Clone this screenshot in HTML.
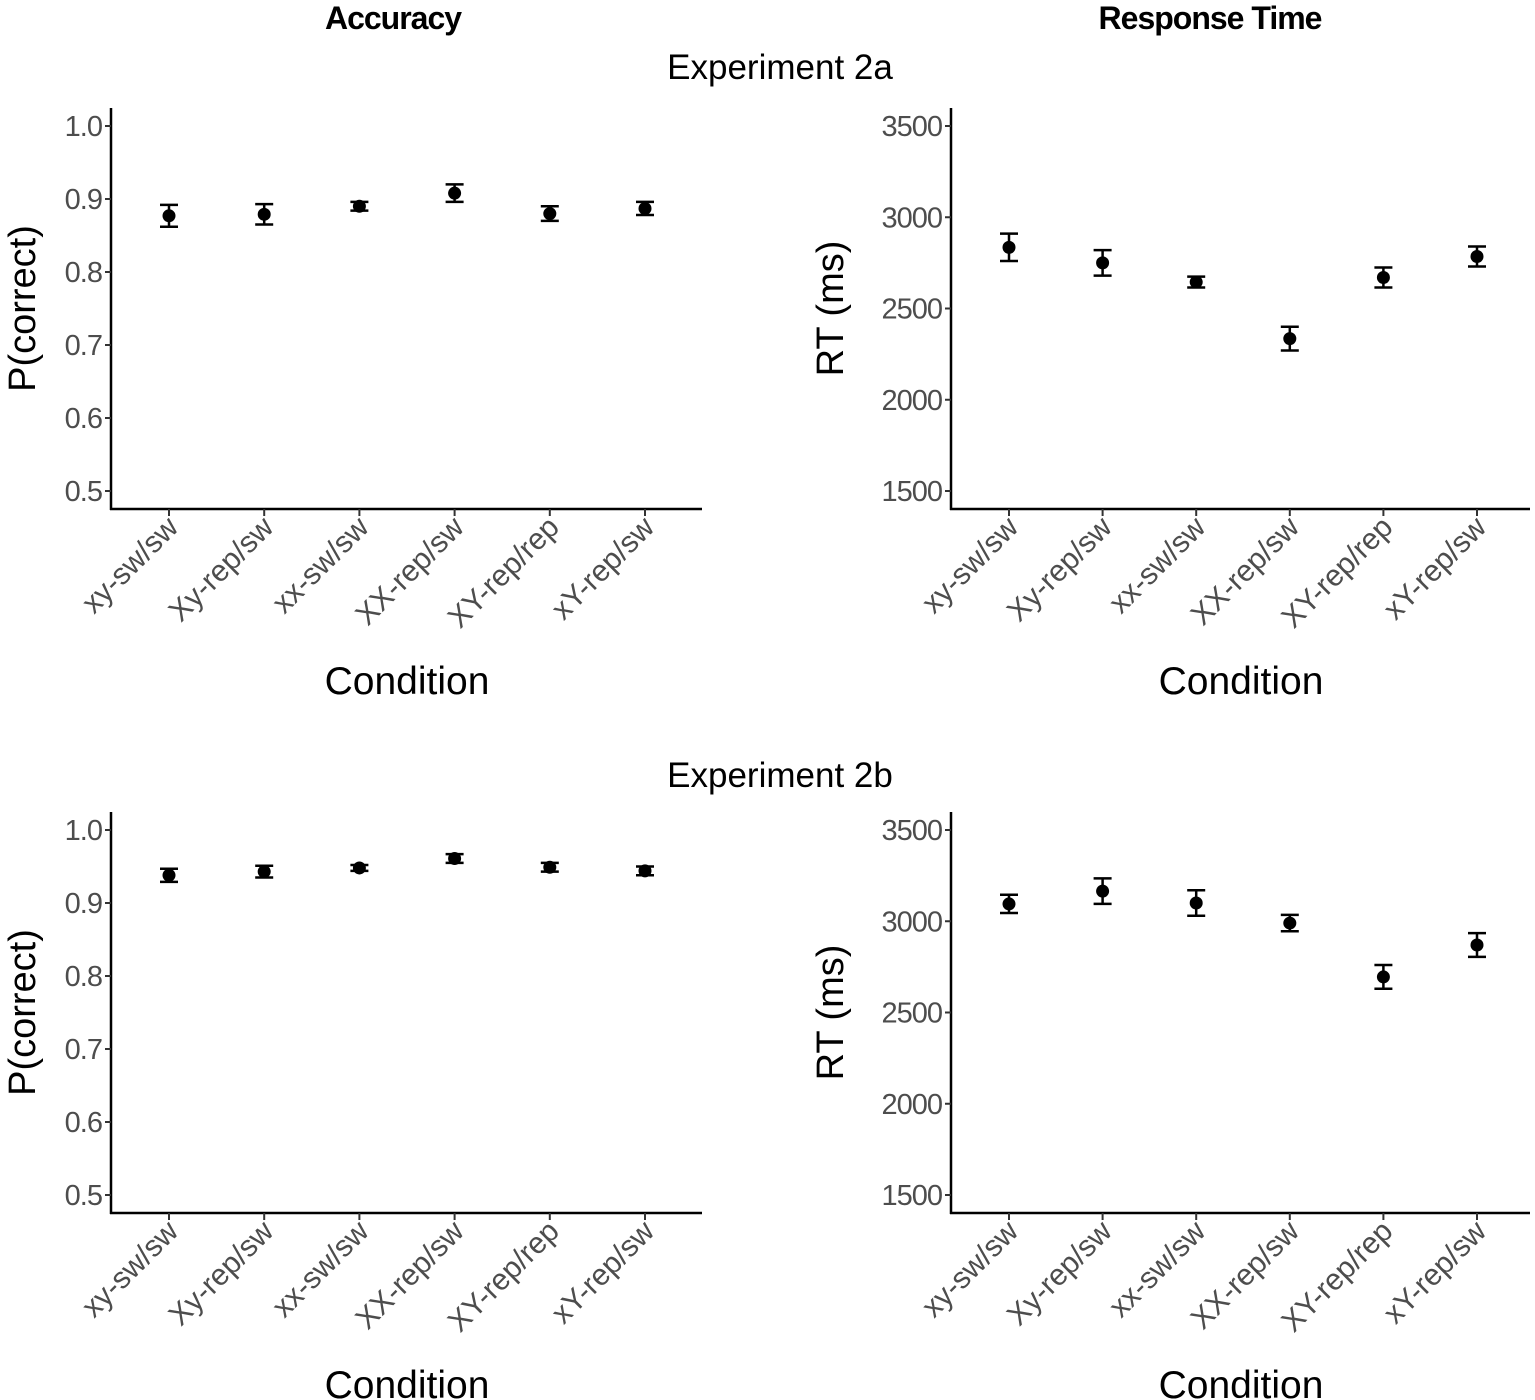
<!DOCTYPE html>
<html><head><meta charset="utf-8"><style>
body{margin:0;background:#fff}
svg{display:block}
text{font-family:"Liberation Sans",Arial,sans-serif}
</style></head><body>
<svg id="fig" width="1535" height="1400" viewBox="0 0 1535 1400" xmlns="http://www.w3.org/2000/svg">
<text x="393" y="29" text-anchor="middle" font-size="32" font-weight="bold" style="letter-spacing:-1px">Accuracy</text>
<text x="1210" y="29" text-anchor="middle" font-size="32" font-weight="bold" style="letter-spacing:-1px">Response Time</text>
<text x="780" y="79" text-anchor="middle" font-size="35">Experiment 2a</text>
<text x="780" y="787" text-anchor="middle" font-size="35">Experiment 2b</text>
</svg>
<script>
const categories=["xy-sw/sw","Xy-rep/sw","xx-sw/sw","XX-rep/sw","XY-rep/rep","xY-rep/sw"];
const acc2aMean=[0.877,0.879,0.890,0.908,0.880,0.887];
const acc2aErr=[0.015,0.014,0.006,0.012,0.010,0.009];
const rt2aMean=[2835,2750,2645,2335,2670,2785];
const rt2aErr=[75,70,30,65,55,55];
const acc2bMean=[0.938,0.943,0.948,0.961,0.949,0.944];
const acc2bErr=[0.009,0.008,0.004,0.006,0.006,0.006];
const rt2bMean=[3095,3165,3100,2990,2695,2870];
const rt2bErr=[50,70,70,45,65,65];
const accTicks=[0.5,0.6,0.7,0.8,0.9,1.0];
const accTickLabels=["0.5","0.6","0.7","0.8","0.9","1.0"];
const rtTicks=[1500,2000,2500,3000,3500];
const rtTickLabels=["1500","2000","2500","3000","3500"];

const NS="http://www.w3.org/2000/svg";
const svg=document.getElementById('fig');
function mk(tag,attrs,parent){const e=document.createElementNS(NS,tag);for(const k in attrs)e.setAttribute(k,attrs[k]);(parent||svg).appendChild(e);return e;}

function panel(name,ax,x0,x1,yTop,yBot,yTickTop,yTickBot,ticks,labels,vmin,vmax,ylab,ylabX,means,errs,labX){
  const g=mk('g',{});
  
  
  const y=v=>yTickBot+(v-vmin)/(vmax-vmin)*(yTickTop-yTickBot);
  const firstX=ax+58, step=(ax===111)?95.2:93.6;
  const x=i=>firstX+i*step;
  const ya=mk('line',{x1:ax,y1:yTop,x2:ax,y2:yBot+1,stroke:'#000','stroke-width':2.5},g);
  
  
  const xa=mk('line',{x1:ax-1,y1:yBot,x2:x1,y2:yBot,stroke:'#000','stroke-width':2.5},g);
  
  
  ticks.forEach((t,i)=>{
    mk('line',{x1:ax-6,y1:y(t),x2:ax,y2:y(t),stroke:'#333','stroke-width':2},g);
    const tl=mk('text',{x:ax-9,y:y(t)+10,'text-anchor':'end','font-size':29,fill:'#4d4d4d',style:'letter-spacing:-1px'},g);
    tl.textContent=labels[i];
    
    
  });
  categories.forEach((c,i)=>{
    mk('line',{x1:x(i),y1:yBot,x2:x(i),y2:yBot+7,stroke:'#333','stroke-width':2},g);
    const tl=mk('text',{x:x(i)+11,y:yBot+20,'text-anchor':'end','font-size':30,fill:'#4d4d4d',transform:`rotate(-45 ${x(i)+11} ${yBot+20})`},g);
    tl.textContent=c;
    
    
    const m=means[i],e=errs[i];
    const eb=mk('path',{d:`M${x(i)-9},${y(m+e)}H${x(i)+9}M${x(i)},${y(m+e)}V${y(m-e)}M${x(i)-9},${y(m-e)}H${x(i)+9}`,stroke:'#000','stroke-width':2.5,fill:'none'},g);
    
    
    const pt=mk('circle',{cx:x(i),cy:y(m),r:6.5,fill:'#000'},g);
    
    
  });
  const cy=(yTop+yBot)/2;
  const yl=mk('text',{x:ylabX,y:cy,'text-anchor':'middle','font-size':38,fill:'#000',transform:`rotate(-90 ${ylabX} ${cy})`},g);
  yl.textContent=ylab;
  
  
  const xl=mk('text',{x:labX,y:yBot+185,'text-anchor':'middle','font-size':39,fill:'#000'},g);
  xl.textContent='Condition';
  
  
}
panel('accuracy-2a-panel',111,111,702,108,509,126,491,accTicks,accTickLabels,0.5,1.0,'P(correct)',35,acc2aMean,acc2aErr,407);
panel('rt-2a-panel',951,951,1530,108,509,126,491,rtTicks,rtTickLabels,1500,3500,'RT (ms)',843,rt2aMean,rt2aErr,1241);
panel('accuracy-2b-panel',111,111,702,812,1213,830,1195,accTicks,accTickLabels,0.5,1.0,'P(correct)',35,acc2bMean,acc2bErr,407);
panel('rt-2b-panel',951,951,1530,812,1213,830,1195,rtTicks,rtTickLabels,1500,3500,'RT (ms)',843,rt2bMean,rt2bErr,1241);
</script>
</body></html>
